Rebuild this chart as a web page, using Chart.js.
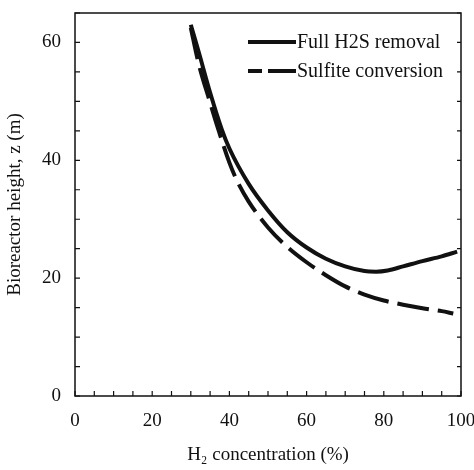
<!DOCTYPE html>
<html>
<head>
<meta charset="utf-8">
<script src="https://cdn.jsdelivr.net/npm/chart.js@4"></script>
<style>
    html, body { margin: 0; padding: 0; background: #fff; }
    #wrap { width: 474px; height: 470px; }
</style>
</head>
<body>
<div id="wrap"><canvas id="chart"></canvas></div>
<script>
// values
const fullX = [30, 32, 35, 38, 40, 45, 50, 55, 60, 65, 70, 75, 78, 81, 85, 90, 95, 99];
const fullZ = [63, 58.5, 51.5, 45.3, 42, 36, 31.5, 27.8, 25.2, 23.3, 22, 21.2, 21.1, 21.3, 22, 22.9, 23.7, 24.5];
const sulfX = [30, 32, 35, 37, 40, 42, 45, 50, 55, 60, 65, 70, 75, 80, 85, 90, 95, 98];
const sulfZ = [62.5, 56.5, 49.8, 45.5, 39.6, 36.5, 33, 28.6, 25.3, 22.7, 20.5, 18.6, 17.2, 16.2, 15.5, 14.9, 14.4, 14];
const seriesNames = ['Full H2S removal', 'Sulfite conversion'];
const xTicks = [0, 20, 40, 60, 80, 100];
const yTicks = [0, 20, 40, 60];

const font = 'Liberation Serif';
const ink = '#111';

const toPoints = (xs, ys) => xs.map((x, i) => ({ x, y: ys[i] }));

// box, inward minor ticks and an in-plot legend
const framePlugin = {
    id: 'frame',
    afterDraw(chart) {
        const { ctx, chartArea: a, scales } = chart;
        ctx.save();
        ctx.strokeStyle = ink;
        ctx.lineWidth = 1.5;
        ctx.strokeRect(a.left, a.top, a.right - a.left, a.bottom - a.top);

        ctx.lineWidth = 1.2;
        for (let v = 0; v <= 100; v += 5) {
            const px = scales.x.getPixelForValue(v);
            ctx.beginPath();
            ctx.moveTo(px, a.bottom);
            ctx.lineTo(px, a.bottom - 5);
            ctx.stroke();
        }
        for (let v = 0; v <= 65; v += 5) {
            const py = scales.y.getPixelForValue(v);
            ctx.beginPath();
            ctx.moveTo(a.left, py);
            ctx.lineTo(a.left + 5, py);
            ctx.moveTo(a.right, py);
            ctx.lineTo(a.right - 4, py);
            ctx.stroke();
        }

        // legend
        const lx = 248;
        const rows = [42, 71];
        ctx.lineWidth = 4;
        ctx.lineCap = 'butt';
        chart.data.datasets.forEach((ds, i) => {
            const y = rows[i];
            ctx.setLineDash(i === 1 ? [14, 6, 28, 10] : []);
            ctx.beginPath();
            ctx.moveTo(lx, y);
            ctx.lineTo(lx + 48, y);
            ctx.stroke();
            ctx.setLineDash([]);
            ctx.fillStyle = ink;
            ctx.font = `20px "${font}"`;
            ctx.textBaseline = 'middle';
            ctx.fillText(ds.label, lx + 49, y + 1);
        });
        ctx.restore();
    },
};

new Chart(document.getElementById('chart'), {
    type: 'line',
    data: {
        datasets: [
            {
                label: seriesNames[0],
                data: toPoints(fullX, fullZ),
                borderColor: ink,
                borderWidth: 4,
                pointRadius: 0,
                cubicInterpolationMode: 'monotone',
            },
            {
                label: seriesNames[1],
                data: toPoints(sulfX, sulfZ),
                borderColor: ink,
                borderWidth: 4,
                borderDash: [32, 9],
                pointRadius: 0,
                cubicInterpolationMode: 'monotone',
            },
        ],
    },
    options: {
        responsive: true,
        maintainAspectRatio: false,
        animation: false,
        layout: { padding: { left: 0, top: 13, right: 13, bottom: 0 } },
        plugins: {
            legend: { display: false },
            tooltip: { enabled: false },
        },
        scales: {
            x: {
                type: 'linear',
                min: 0,
                max: 100,
                afterBuildTicks(scale) {
                    scale.ticks = xTicks.map((value) => ({ value }));
                },
                afterFit(scale) {
                    scale.height = 74;
                    scale.paddingLeft = 0;
                    scale.paddingRight = 0;
                },
                ticks: {
                    color: ink,
                    padding: 14,
                    font: { family: font, size: 19 },
                },
                grid: { display: false, drawTicks: false },
                border: { display: false },
                title: {
                    display: true,
                    text: 'H₂ concentration (%)',
                    color: ink,
                    font: { family: font, size: 19 },
                    padding: { top: 10 },
                },
            },
            y: {
                type: 'linear',
                min: 0,
                max: 65,
                afterBuildTicks(scale) {
                    scale.ticks = yTicks.map((value) => ({ value }));
                },
                afterFit(scale) {
                    scale.width = 75;
                    scale.paddingTop = 0;
                    scale.paddingBottom = 0;
                },
                ticks: {
                    color: ink,
                    padding: 14,
                    font: { family: font, size: 19 },
                },
                grid: { display: false, drawTicks: false },
                border: { display: false },
                title: {
                    display: true,
                    text: 'Bioreactor height, z (m)',
                    color: ink,
                    font: { family: font, size: 19 },
                    padding: { bottom: 4 },
                },
            },
        },
    },
    plugins: [framePlugin],
});
</script>
</body>
</html>
